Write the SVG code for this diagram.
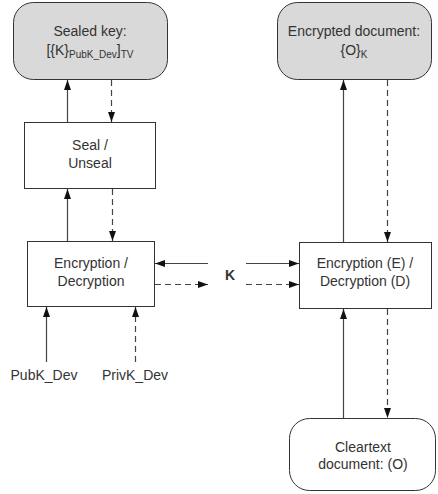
<svg xmlns="http://www.w3.org/2000/svg" width="438" height="494" viewBox="0 0 438 494">
<style>
text{font-family:"Liberation Sans",Arial,sans-serif;font-size:14px;fill:#333;text-anchor:middle}
.sub{font-size:10px}
.box{fill:#fff;stroke:#333;stroke-width:1}
.gbox{fill:#d9d9d9;stroke:#333;stroke-width:1}
.c{stroke:#444;stroke-width:1.2;fill:none;marker-end:url(#ah)}
.d{stroke-dasharray:6,4}
</style>
<defs>
<marker id="ah" markerUnits="userSpaceOnUse" markerWidth="10" markerHeight="8" refX="10" refY="4" orient="auto">
<path d="M0,0.5 L10,4 L0,7.5 z" fill="#111"/>
</marker>
</defs>
<g id="sealed-key">
<rect class="gbox" x="13.5" y="2.5" width="154" height="77" rx="20"/>
<text x="90" y="36">Sealed key:</text>
<text x="90" y="55">[{K}<tspan class="sub" dy="3">PubK_Dev</tspan><tspan dy="-3">]</tspan><tspan class="sub" dy="3">TV</tspan></text>
</g>
<g id="encrypted-doc">
<rect class="gbox" x="277.5" y="2.5" width="154" height="77" rx="20"/>
<text x="354" y="36">Encrypted document:</text>
<text x="354" y="55">{O}<tspan class="sub" dy="3">K</tspan></text>
</g>
<g id="seal">
<rect class="box" x="24.5" y="122.5" width="131" height="66"/>
<text x="90" y="150">Seal /</text>
<text x="90" y="168">Unseal</text>
</g>
<g id="encdec-left">
<rect class="box" x="27.5" y="241.5" width="127" height="65"/>
<text x="91" y="268">Encryption /</text>
<text x="91" y="286">Decryption</text>
</g>
<g id="encdec-right">
<rect class="box" x="299.5" y="242.5" width="132" height="66"/>
<text x="365" y="268">Encryption (E) /</text>
<text x="365" y="286">Decryption (D)</text>
</g>
<g id="cleartext">
<rect class="box" x="289.5" y="418.5" width="146" height="72" rx="20"/>
<text x="363" y="452">Cleartext</text>
<text x="363" y="469">document: (O)</text>
</g>
<g id="labels">
<text x="44" y="380">PubK_Dev</text>
<text x="135" y="380">PrivK_Dev</text>
<text x="230" y="280" style="font-weight:bold">K</text>
</g>
<g id="connectors">
<line class="c" x1="67.5" y1="122" x2="67.5" y2="80"/>
<line class="c d" x1="111.5" y1="80" x2="111.5" y2="122"/>
<line class="c" x1="67.5" y1="241" x2="67.5" y2="189"/>
<line class="c d" x1="112.5" y1="189" x2="112.5" y2="241"/>
<line class="c" x1="46.5" y1="362" x2="46.5" y2="307"/>
<line class="c d" x1="135.5" y1="362" x2="135.5" y2="307"/>
<line class="c" x1="208" y1="263.5" x2="155" y2="263.5"/>
<line class="c" x1="246" y1="263.5" x2="299" y2="263.5"/>
<line class="c d" x1="155" y1="284.5" x2="208" y2="284.5"/>
<line class="c d" x1="246" y1="284.5" x2="299" y2="284.5"/>
<line class="c" x1="343.5" y1="242" x2="343.5" y2="80"/>
<line class="c d" x1="387.5" y1="80" x2="387.5" y2="242"/>
<line class="c" x1="343.5" y1="418" x2="343.5" y2="309"/>
<line class="c d" x1="387.5" y1="309" x2="387.5" y2="418"/>
</g>
</svg>
